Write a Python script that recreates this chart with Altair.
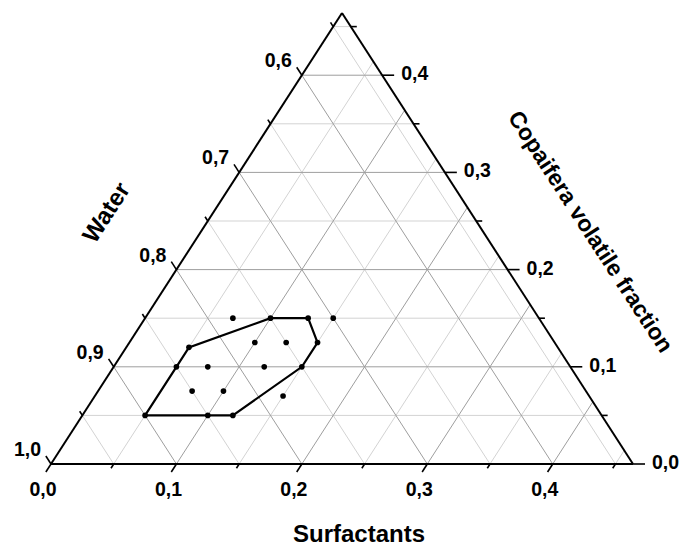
import altair as alt
import numpy as np
import pandas as pd

# Partial ternary diagram: water 1.0 .. (1 - SPAN), surfactants and
# Copaifera volatile fraction 0 .. SPAN.
SPAN = 0.464
W_PX, H_PX = 582, 451

# Formulations (mass fractions)
water = [0.78, 0.75, 0.72, 0.70, 0.83, 0.775, 0.75, 0.725, 0.85,
         0.825, 0.78, 0.75, 0.85, 0.825, 0.78, 0.90, 0.85, 0.83]
surfactants = [0.07, 0.10, 0.13, 0.15, 0.05, 0.10, 0.125, 0.15, 0.05,
               0.075, 0.12, 0.15, 0.075, 0.10, 0.15, 0.05, 0.10, 0.12]
copaifera = [0.15, 0.15, 0.15, 0.15, 0.12, 0.125, 0.125, 0.125, 0.10,
             0.10, 0.10, 0.10, 0.075, 0.075, 0.07, 0.05, 0.05, 0.05]

# Boundary of the region enclosing the formulations
region_water = [0.90, 0.85, 0.83, 0.75, 0.72, 0.725, 0.75, 0.83, 0.85, 0.90]
region_surfactants = [0.05, 0.05, 0.05, 0.10, 0.13, 0.15, 0.15, 0.12, 0.10, 0.05]
region_copaifera = [0.05, 0.10, 0.12, 0.15, 0.15, 0.125, 0.10, 0.05, 0.05, 0.05]

bottom_ticks = [0.0, 0.1, 0.2, 0.3, 0.4]
bottom_labels = ["0,0", "0,1", "0,2", "0,3", "0,4"]
right_ticks = [0.0, 0.1, 0.2, 0.3, 0.4]
right_labels = ["0,0", "0,1", "0,2", "0,3", "0,4"]
left_ticks = [1.0, 0.9, 0.8, 0.7, 0.6]
left_labels = ["1,0", "0,9", "0,8", "0,7", "0,6"]

SX = W_PX / SPAN  # pixels per unit along x
SY = H_PX / SPAN  # pixels per unit along y


def to_xy(s, c):
    return s + c / 2.0, c


def seg(s1, c1, s2, c2, kind=""):
    x1, y1 = to_xy(s1, c1)
    x2, y2 = to_xy(s2, c2)
    return {"x": x1, "y": y1, "x2": x2, "y2": y2, "kind": kind}


steps = [round(0.05 * i, 2) for i in range(1, 10)]
grid_rows = []
for k in steps:
    kind = "major" if round(k * 20) % 2 == 0 else "minor"
    grid_rows.append(seg(k, 0, k, SPAN - k, kind))      # constant surfactants
    grid_rows.append(seg(0, k, SPAN - k, k, kind))      # constant Copaifera
    grid_rows.append(seg(k, 0, 0, k, kind))             # constant water
grid = pd.DataFrame(grid_rows)

edges = pd.DataFrame([
    seg(0, 0, SPAN, 0),
    seg(SPAN, 0, 0, SPAN),
    seg(0, SPAN, 0, 0),
])

# Ticks follow the direction of each axis' grid lines, pointing outward
tick_rows = []
slant = np.hypot(0.5 * SX, SY)
for k in [0.0] + steps:
    major = round(k * 20) % 2 == 0
    t = (9.5 if major else 5.0) / slant
    tr = (12.0 if major else 6.0) / SX
    tick_rows.append(seg(k, 0, k, -t))                  # surfactants
    tick_rows.append(seg(0, k, -t, k + t))              # water
    tick_rows.append(seg(SPAN - k, k, SPAN - k + tr, k))  # Copaifera
ticks = pd.DataFrame(tick_rows)

pts = pd.DataFrame({"w": water, "s": surfactants, "c": copaifera})
pts["x"], pts["y"] = to_xy(pts["s"], pts["c"])

region = pd.DataFrame({"w": region_water, "s": region_surfactants,
                       "c": region_copaifera})
region["x"], region["y"] = to_xy(region["s"], region["c"])
region["order"] = range(len(region))

bl = pd.DataFrame({"v": bottom_ticks, "label": bottom_labels})
bl["x"], bl["y"] = to_xy(bl["v"], 0.0 * bl["v"])
rl = pd.DataFrame({"v": right_ticks, "label": right_labels})
rl["x"], rl["y"] = to_xy(SPAN - rl["v"], rl["v"])
ll = pd.DataFrame({"v": left_ticks, "label": left_labels})
ll["x"], ll["y"] = to_xy(0.0 * ll["v"], 1.0 - ll["v"])

xs = alt.Scale(domain=[0, SPAN], nice=False, zero=False)
ys = alt.Scale(domain=[0, SPAN], nice=False, zero=False)
X = alt.X("x:Q", scale=xs, axis=None)
Y = alt.Y("y:Q", scale=ys, axis=None)


def rules(df, color, width):
    return alt.Chart(df).mark_rule(color=color, strokeWidth=width).encode(
        x=X, y=Y, x2="x2:Q", y2="y2:Q")


minor = rules(grid[grid["kind"] == "minor"], "#d3d3d3", 1)
major = rules(grid[grid["kind"] == "major"], "#9e9e9e", 1)
frame = rules(edges, "#000000", 2)
tick_marks = rules(ticks, "#000000", 1.6)

outline = alt.Chart(region).mark_line(color="#000000", strokeWidth=2.2).encode(
    x=X, y=Y, order="order:Q")
dots = alt.Chart(pts).mark_circle(color="#000000", opacity=1, size=32).encode(
    x=X, y=Y)

lab = dict(font="Liberation Sans", fontSize=19.5, fontWeight="bold", color="#000000")
bottom_text = alt.Chart(bl).mark_text(align="center", baseline="middle",
                                      dx=-8, dy=26, **lab).encode(x=X, y=Y, text="label:N")
right_text = alt.Chart(rl).mark_text(align="left", baseline="middle",
                                     dx=19, dy=-1, **lab).encode(x=X, y=Y, text="label:N")
left_text = alt.Chart(ll).mark_text(align="right", baseline="middle",
                                    dx=-10, dy=-14, **lab).encode(x=X, y=Y, text="label:N")

ttl = dict(font="Liberation Sans", fontWeight="bold", color="#000000",
           align="center", baseline="middle")
title_s = alt.Chart(pd.DataFrame({"t": ["Surfactants"]})).mark_text(fontSize=24, **ttl).encode(
    x=alt.value(308), y=alt.value(522), text="t:N")
title_w = alt.Chart(pd.DataFrame({"t": ["Water"]})).mark_text(angle=303, fontSize=24, **ttl).encode(
    x=alt.value(56), y=alt.value(200), text="t:N")
title_c = alt.Chart(pd.DataFrame({"t": ["Copaifera volatile fraction"]})).mark_text(
    angle=57, fontSize=23, **ttl).encode(x=alt.value(539), y=alt.value(219), text="t:N")

chart = alt.layer(
    minor, major, outline, dots, frame, tick_marks,
    bottom_text, right_text, left_text, title_s, title_w, title_c,
).properties(
    width=W_PX, height=H_PX,
    padding={"left": 51, "top": 13, "right": 683 - 51 - W_PX, "bottom": 546 - 13 - H_PX},
    autosize=alt.AutoSizeParams(type="none"),
    background="#ffffff",
).configure_view(strokeWidth=0)

chart.save("out.html", embed_options={"renderer": "svg", "actions": False})
